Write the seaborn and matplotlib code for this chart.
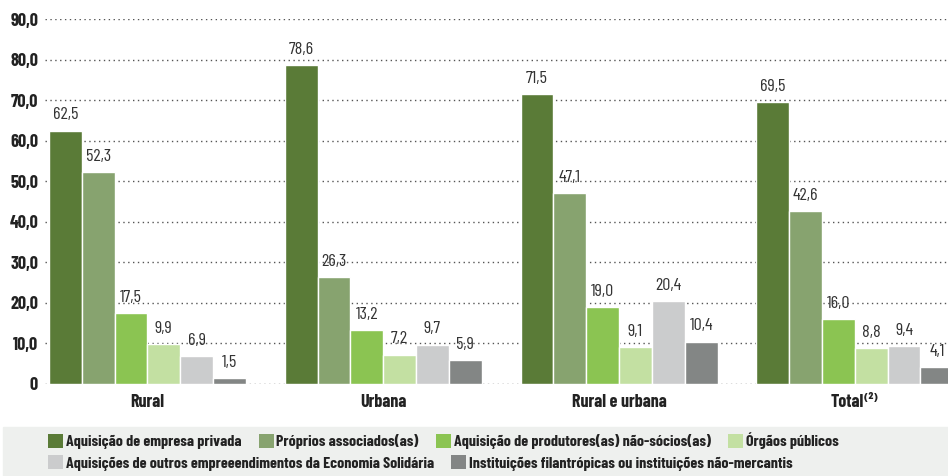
import matplotlib
matplotlib.use("Agg")
import matplotlib.pyplot as plt
import seaborn as sns
import pandas as pd
from matplotlib.patches import Patch, Rectangle

groups = ["Rural", "Urbana", "Rural e urbana", "Total⁽²⁾"]
series = [
    "Aquisição de empresa privada",
    "Próprios associados(as)",
    "Aquisição de produtores(as) não-sócios(as)",
    "Órgãos públicos",
    "Aquisições de outros empreeendimentos da Economia Solidária",
    "Instituições filantrópicas ou instituições não-mercantis",
]
empresa_privada = [62.5, 78.6, 71.5, 69.5]
proprios_associados = [52.3, 26.3, 47.1, 42.6]
produtores_nao_socios = [17.5, 13.2, 19.0, 16.0]
orgaos_publicos = [9.9, 7.2, 9.1, 8.8]
outros_empreendimentos = [6.9, 9.7, 20.4, 9.4]
filantropicas = [1.5, 5.9, 10.4, 4.1]
colors = ["#5a7b37", "#87a36f", "#8bc452", "#c3e0a2", "#cbcccd", "#838685"]
yticks = [0, 10, 20, 30, 40, 50, 60, 70, 80, 90]

all_values = [empresa_privada, proprios_associados, produtores_nao_socios,
              orgaos_publicos, outros_empreendimentos, filantropicas]
rows = []
for name, vals in zip(series, all_values):
    for g, v in zip(groups, vals):
        rows.append({"grupo": g, "serie": name, "valor": v})
df = pd.DataFrame(rows)

sns.set_style("white")
FONT = ["Barlow Condensed", "DejaVu Sans"]
plt.rcParams["font.family"] = FONT

fig = plt.figure(figsize=(9.48, 4.76), dpi=100)
ax = fig.add_axes([45 / 948, 92 / 476, 1 - 45 / 948, 365 / 476])

sns.barplot(data=df, x="grupo", y="valor", hue="serie", order=groups,
            hue_order=series, palette=colors, width=0.835, gap=0,
            saturation=1, legend=False, ax=ax)

for cont in ax.containers:
    labels = [f"{b.get_height():.1f}".replace(".", ",") for b in cont]
    ax.bar_label(cont, labels=labels, padding=6, fontsize=13, color="#333333")

ax.set_ylim(0, 90)
ax.set_xlim(-0.4345, 3.395)
ax.set_yticks(yticks)
ax.set_yticklabels(["0"] + [f"{t},0" for t in yticks[1:]],
                   fontsize=13, fontweight="bold", color="#222222")
ax.set_xticks(range(len(groups)))
ax.set_xticklabels(groups, fontsize=13, fontweight="bold", color="#222222")
ax.tick_params(axis="y", length=0, pad=5)
ax.tick_params(axis="x", length=0, pad=7)
ax.set_xlabel("")
ax.set_ylabel("")
for s in ax.spines.values():
    s.set_visible(False)
ax.yaxis.grid(True, linestyle=(0, (1, 2.5)), color="#555555", linewidth=1)
ax.set_axisbelow(True)

# legend background
fig.patches.append(Rectangle((3 / 948, 0), 945 / 948, 49 / 476,
                             transform=fig.transFigure, color="#eef0ee", zorder=0))

handles = [Patch(facecolor=c, edgecolor="none") for c in colors]
leg_kw = dict(frameon=False, handlelength=0.95, handleheight=0.95,
              handletextpad=0.15, columnspacing=1.1, borderaxespad=0,
              borderpad=0,
              prop={"family": FONT, "weight": "bold", "size": 11.5})
leg1 = fig.legend(handles[:4], series[:4], ncol=4, loc="center left",
                  bbox_to_anchor=(48 / 948, 35 / 476), **leg_kw)
leg2 = fig.legend(handles[4:], series[4:], ncol=2, loc="center left",
                  bbox_to_anchor=(48 / 948, 13 / 476), **leg_kw)
for leg in (leg1, leg2):
    for t in leg.get_texts():
        t.set_color("#222222")

fig.savefig("out.png", dpi=100)
plt.close(fig)
